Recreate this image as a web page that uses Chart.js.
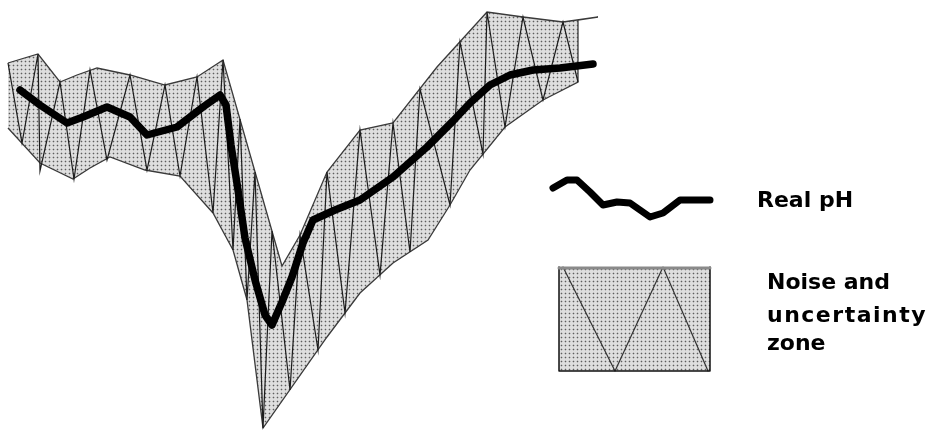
<!DOCTYPE html>
<html lang="en">
<head>
<meta charset="utf-8">
<title>Real pH</title>
<script src="https://cdn.jsdelivr.net/npm/chart.js@4.4.1/dist/chart.umd.min.js"></script>
<style>
  html, body { margin: 0; padding: 0; background: #fff; }
  #ph_chart { display: block; }
</style>
</head>
<body>
<canvas id="ph_chart" width="929" height="430"></canvas>
<script>
// Upper edge of the noise zone (time, level), left to right
const upperTime  = [8, 38, 60, 77, 97, 130, 165, 197, 223, 282, 300, 327, 360, 393, 437, 487, 523, 563, 598, 578];
const upperLevel = [367, 376, 348, 355, 362, 355, 345, 353, 370, 164, 195, 258, 300, 307, 363, 418, 413, 408, 413, 410];

// Lower edge of the noise zone, right to left (closes the band)
const lowerTime  = [578, 543, 505, 470, 450, 428, 393, 360, 327, 263, 247, 233, 213, 180, 145, 110, 90, 73, 40, 8];
const lowerLevel = [348, 330, 303, 260, 225, 190, 167, 137, 93, 2, 130, 180, 217, 254, 260, 273, 262, 251, 267, 302];

// Zigzag between the two edges
const zigTime  = [8, 22, 38, 40, 60, 74, 90, 107, 130, 147, 165, 180, 197, 213, 223, 233, 240, 247, 255, 263,
                  272, 290, 300, 318, 327, 345, 360, 380, 393, 410, 420, 450, 460, 483, 487, 505, 523, 543, 563, 578];
const zigLevel = [367, 287, 376, 259, 348, 251, 360, 270, 355, 260, 345, 254, 353, 217, 370, 180, 311, 130, 258, 2,
                  199, 40, 195, 80, 258, 117, 300, 155, 307, 178, 341, 225, 388, 276, 418, 303, 413, 330, 408, 348];

// Real pH
const phTime  = [20, 40, 67, 83, 107, 130, 147, 177, 203, 220, 226, 231, 238, 245, 255, 265, 272, 282, 292, 303,
                 313, 335, 360, 393, 427, 453, 470, 490, 510, 533, 560, 593];
const phLevel = [340, 325, 307, 313, 323, 313, 295, 303, 323, 335, 325, 285, 240, 192, 150, 115, 105, 128, 153, 187,
                 210, 220, 230, 253, 283, 309, 327, 345, 355, 360, 362, 366];

// Legend texts
const legendLine = 'Real pH';
const legendZone = ['Noise and', 'uncertainty', 'zone'];

function toPoints(xs, ys) {
    return xs.map((x, i) => ({ x: x, y: ys[i] }));
}

// Dotted screen used for the zone
function makeDots() {
    const c = document.createElement('canvas');
    c.width = 4;
    c.height = 4;
    const g = c.getContext('2d');
    g.fillStyle = '#dedede';
    g.fillRect(0, 0, 4, 4);
    g.fillStyle = '#bdbdbd';
    g.fillRect(0, 1, 3, 1);
    g.fillRect(1, 0, 1, 3);
    g.fillStyle = '#5e5e5e';
    g.fillRect(1, 1, 1, 1);
    return g.createPattern(c, 'repeat');
}

const dots = makeDots();

// Hand-drawn legend on the right
const legendPlugin = {
    id: 'phLegend',
    afterDraw(chart) {
        const ctx = chart.ctx;
        ctx.save();

        // wavy line sample
        const wave = [[0, 0], [14, -8], [24, -8], [37, 4], [50, 17], [64, 14], [77, 15], [87, 22], [97, 29],
                      [110, 25], [127, 12], [140, 12], [157, 12]];
        ctx.beginPath();
        wave.forEach(([dx, dy], i) => {
            if (i === 0) ctx.moveTo(553 + dx, 188 + dy);
            else ctx.lineTo(553 + dx, 188 + dy);
        });
        ctx.strokeStyle = '#000';
        ctx.lineWidth = 7;
        ctx.lineJoin = 'round';
        ctx.lineCap = 'round';
        ctx.stroke();

        // zone sample box
        const bx = 559, by = 267, bw = 151, bh = 104;
        ctx.fillStyle = dots;
        ctx.fillRect(bx, by, bw, bh);
        ctx.beginPath();
        ctx.moveTo(bx + 4, by);
        ctx.lineTo(bx + 56, by + bh);
        ctx.lineTo(bx + 104, by);
        ctx.lineTo(bx + 149, by + bh);
        ctx.strokeStyle = '#333';
        ctx.lineWidth = 1.2;
        ctx.stroke();
        ctx.strokeStyle = '#111';
        ctx.lineWidth = 1.5;
        ctx.beginPath();
        ctx.moveTo(bx, by);
        ctx.lineTo(bx, by + bh);
        ctx.lineTo(bx + bw, by + bh);
        ctx.lineTo(bx + bw, by);
        ctx.stroke();
        ctx.strokeStyle = '#8a8a8a';
        ctx.lineWidth = 3;
        ctx.beginPath();
        ctx.moveTo(bx, by + 1);
        ctx.lineTo(bx + bw, by + 1);
        ctx.stroke();

        // labels
        ctx.fillStyle = '#000';
        ctx.font = 'bold 22px "DejaVu Sans"';
        ctx.textBaseline = 'alphabetic';
        ctx.fillText(legendLine, 757, 207);
        const rows = [289, 322, 350];
        const spacing = ['0px', '1.5px', '0px'];
        legendZone.forEach((t, i) => {
            ctx.letterSpacing = spacing[i];
            ctx.fillText(t, 767, rows[i]);
        });
        ctx.restore();
    }
};

new Chart(document.getElementById('ph_chart'), {
    type: 'line',
    data: {
        datasets: [
            {
                label: legendLine,
                data: toPoints(phTime, phLevel),
                borderColor: '#000',
                borderWidth: 7.5,
                borderJoinStyle: 'round',
                borderCapStyle: 'round',
                pointRadius: 0,
                fill: false,
                clip: false
            },
            {
                label: 'zigzag',
                data: toPoints(zigTime, zigLevel),
                borderColor: '#1c1c1c',
                borderWidth: 1.2,
                pointRadius: 0,
                fill: false,
                clip: false
            },
            {
                label: legendZone.join(' '),
                data: toPoints(upperTime.concat(lowerTime), upperLevel.concat(lowerLevel)),
                borderColor: '#3a3a3a',
                borderWidth: 1.3,
                backgroundColor: dots,
                pointRadius: 0,
                fill: 'shape',
                clip: false
            }
        ]
    },
    options: {
        responsive: false,
        animation: false,
        events: [],
        layout: { padding: 0 },
        scales: {
            x: { type: 'linear', min: 0, max: 929, display: false },
            y: { type: 'linear', min: 0, max: 430, display: false }
        },
        plugins: {
            legend: { display: false },
            tooltip: { enabled: false }
        }
    },
    plugins: [legendPlugin]
});
</script>
</body>
</html>
